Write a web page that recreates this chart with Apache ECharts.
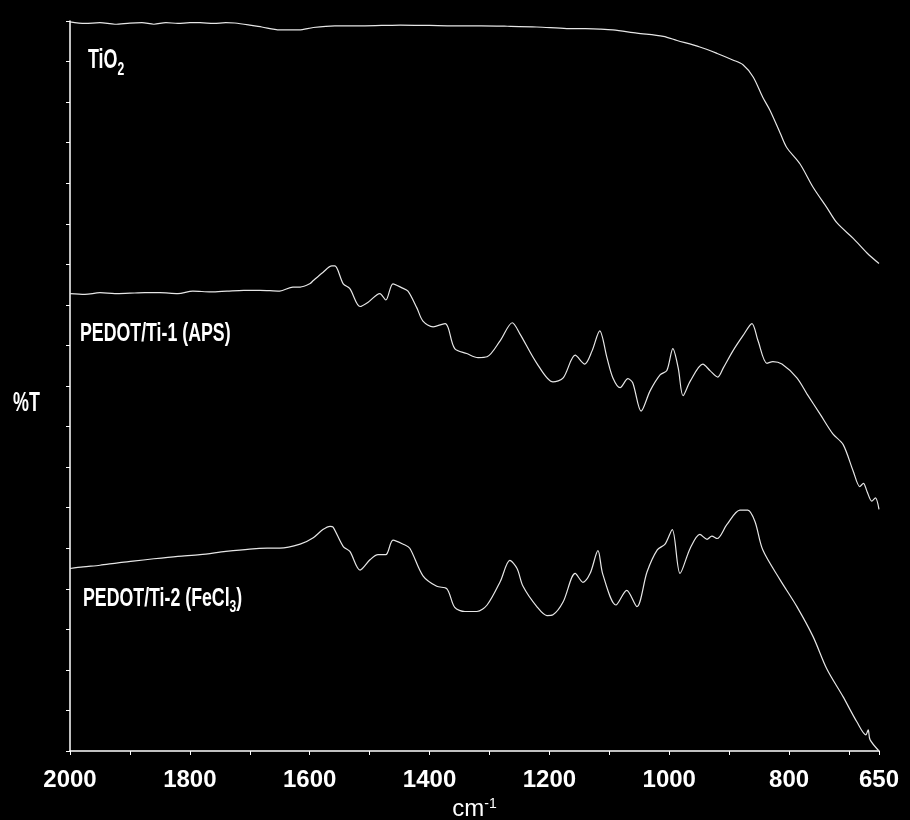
<!DOCTYPE html>
<html>
<head>
<meta charset="utf-8">
<script src="https://cdn.jsdelivr.net/npm/echarts@6/dist/echarts.min.js"></script>
<style>
html,body{margin:0;padding:0;background:#000;}
#c{width:910px;height:820px;}
</style>
</head>
<body>
<div id="c"></div>
<script>
// ---- data (wavenumber cm-1, %T in arbitrary offset units) ----
const tio2X = [2000,1975,1950,1925,1900,1880,1860,1840,1820,1800,1783,1760,1740,1725,1700,1680,1650,1618,1594,1558,1520,1480,1449,1400,1360,1314,1270,1221,1171,1140,1116,1094,1054,1010,987,949,920,894,877,860,844,832,815,804,782,760,737,720,693,670,650];
const tio2Y = [89.9,89.7,89.8,89.6,89.75,89.8,89.6,89.8,89.7,89.8,89.8,89.7,89.8,89.75,89.5,89.26,88.9,88.9,89.2,89.4,89.4,89.45,89.5,89.45,89.4,89.4,89.35,89.26,89.07,89.05,89.0,88.9,88.5,88.1,87.6,86.8,86.0,85.2,84.6,83.1,80.6,79.0,76.2,74.4,72.4,69.5,67.0,65.1,63.2,61.4,60.1];

const apsX = [2000,1975,1950,1925,1900,1875,1850,1820,1795,1765,1738,1710,1683,1650,1628,1616,1600,1594,1578,1563,1558,1544,1533,1516,1503,1483,1473,1461,1446,1436,1421,1411,1394,1374,1369,1358,1338,1319,1304,1282,1262,1249,1221,1194,1177,1157,1141,1129,1116,1104,1094,1082,1069,1061,1047,1032,1015,1004,994,985,977,965,944,932,919,910,894,877,862,852,837,827,812,787,770,748,727,710,693,682,676,670,662,656,650];
const apsY = [56.4,56.3,56.5,56.4,56.45,56.5,56.5,56.4,56.7,56.6,56.7,56.8,56.8,56.7,57.2,57.2,57.6,58.0,59.0,59.8,59.8,57.6,57.0,54.8,55.3,56.4,55.6,57.6,57.1,56.7,54.6,53.0,52.3,52.7,52.2,49.6,49.0,48.5,48.6,50.6,52.8,51.4,47.8,45.5,46.0,48.8,47.7,49.3,51.8,48.5,46.0,44.8,45.9,45.4,41.9,44.4,46.4,46.9,49.6,47.2,43.8,45.6,47.7,46.9,46.1,47.2,49.3,51.2,52.7,50.6,47.8,48.0,47.7,46.0,44.0,41.5,39.1,37.8,34.5,32.6,33.0,32.0,30.8,31.2,29.8];

const fecX = [2000,1978,1950,1920,1895,1860,1820,1783,1740,1700,1671,1650,1616,1594,1578,1566,1561,1544,1533,1516,1499,1486,1473,1461,1444,1433,1411,1388,1371,1358,1341,1321,1304,1282,1266,1254,1244,1221,1204,1194,1177,1157,1144,1132,1119,1111,1089,1071,1054,1037,1020,1007,995,982,965,949,937,929,920,904,882,869,857,844,815,787,760,737,710,687,672,668,665,650];
const fecY = [22.5,22.7,22.9,23.2,23.4,23.7,24.0,24.2,24.6,24.9,25.0,25.0,25.5,26.3,27.3,27.7,27.6,25.2,24.6,22.3,23.6,24.2,24.2,26.0,25.5,25.0,21.6,20.3,20.0,17.7,17.2,17.2,18.0,20.9,23.5,22.5,20.3,17.8,16.7,16.8,18.4,21.9,20.8,21.9,24.7,21.8,18.0,19.8,17.8,22.1,24.8,25.5,27.3,21.9,25.0,26.7,26.1,26.5,26.2,27.9,29.7,29.7,28.3,24.8,21.1,17.8,14.1,10.1,6.7,3.6,2.0,2.6,1.4,0];

const xTickValues = [2000,1900,1800,1700,1600,1500,1400,1300,1200,1100,1000,900,800,700,650];
const xLabelValues = [2000,1800,1600,1400,1200,1000,800,650];

const zip = (xs, ys) => xs.map((x, i) => [x, ys[i]]);

const FONT = "'Liberation Sans','Arial',sans-serif";
const chart = echarts.init(document.getElementById('c'));
const lineStyle = {color: '#e6e6e6', width: 1.2};

chart.setOption({
  backgroundColor: '#000',
  animation: false,
  grid: {left: 70, right: 31, top: 21, bottom: 69, containLabel: false, outerBoundsMode: 'none'},
  xAxis: {
    type: 'value', inverse: true, min: 650, max: 2000, interval: 50,
    axisLine: {lineStyle: {color: '#fff', width: 1.5}},
    axisTick: {show: true, length: 4, lineStyle: {color: '#fff'}, customValues: xTickValues},
    axisLabel: {color: '#fff', fontFamily: FONT, fontWeight: 'bold', fontSize: 24, margin: 17,
      customValues: xLabelValues, formatter: v => String(v)},
    splitLine: {show: false},
    name: '{a|cm}{b|-1}',
    nameLocation: 'middle', nameGap: 44,
    nameTextStyle: {
      rich: {
        a: {color: '#fff', fontFamily: FONT, fontSize: 24, verticalAlign: 'bottom'},
        b: {color: '#fff', fontFamily: FONT, fontSize: 14, verticalAlign: 'top'}
      }
    }
  },
  yAxis: {
    type: 'value', min: 0, max: 90, interval: 5,
    axisLine: {show: true, lineStyle: {color: '#fff', width: 1.5}},
    axisTick: {show: true, length: 4, lineStyle: {color: '#fff'}},
    axisLabel: {show: false},
    splitLine: {show: false}
  },
  graphic: [
    {type: 'text', x: 88, y: 46, scaleX: 0.64, style: {
      text: '{a|TiO}{b|2}', textVerticalAlign: 'top', rich: {
        a: {fill: '#fff', fontFamily: FONT, fontWeight: 'bold', fontSize: 28, verticalAlign: 'top'},
        b: {fill: '#fff', fontFamily: FONT, fontWeight: 'bold', fontSize: 19, verticalAlign: 'top', padding: [14,0,0,0]}
      }}},
    {type: 'text', x: 80, y: 334, scaleX: 0.71, style: {
      text: 'PEDOT/Ti-1 (APS)', fill: '#fff', fontFamily: FONT, fontWeight: 'bold', fontSize: 25,
      textVerticalAlign: 'middle'}},
    {type: 'text', x: 83, y: 587, scaleX: 0.71, style: {
      text: '{a|PEDOT/Ti-2 (FeCl}{b|3}{a|)}', textVerticalAlign: 'top', rich: {
        a: {fill: '#fff', fontFamily: FONT, fontWeight: 'bold', fontSize: 25, verticalAlign: 'top'},
        b: {fill: '#fff', fontFamily: FONT, fontWeight: 'bold', fontSize: 17, verticalAlign: 'top', padding: [12,0,0,0]}
      }}},
    {type: 'text', x: 13, y: 403, scaleX: 0.64, style: {
      text: '%T', fill: '#fff', fontFamily: FONT, fontWeight: 'bold', fontSize: 28,
      textVerticalAlign: 'middle'}}
  ],
  series: [
    {name: 'TiO2', type: 'line', data: zip(tio2X, tio2Y), showSymbol: false, smooth: 0.3, lineStyle},
    {name: 'PEDOT/Ti-1 (APS)', type: 'line', data: zip(apsX, apsY), showSymbol: false, smooth: 0.3, lineStyle},
    {name: 'PEDOT/Ti-2 (FeCl3)', type: 'line', data: zip(fecX, fecY), showSymbol: false, smooth: 0.3, lineStyle}
  ]
});
</script>
</body>
</html>
